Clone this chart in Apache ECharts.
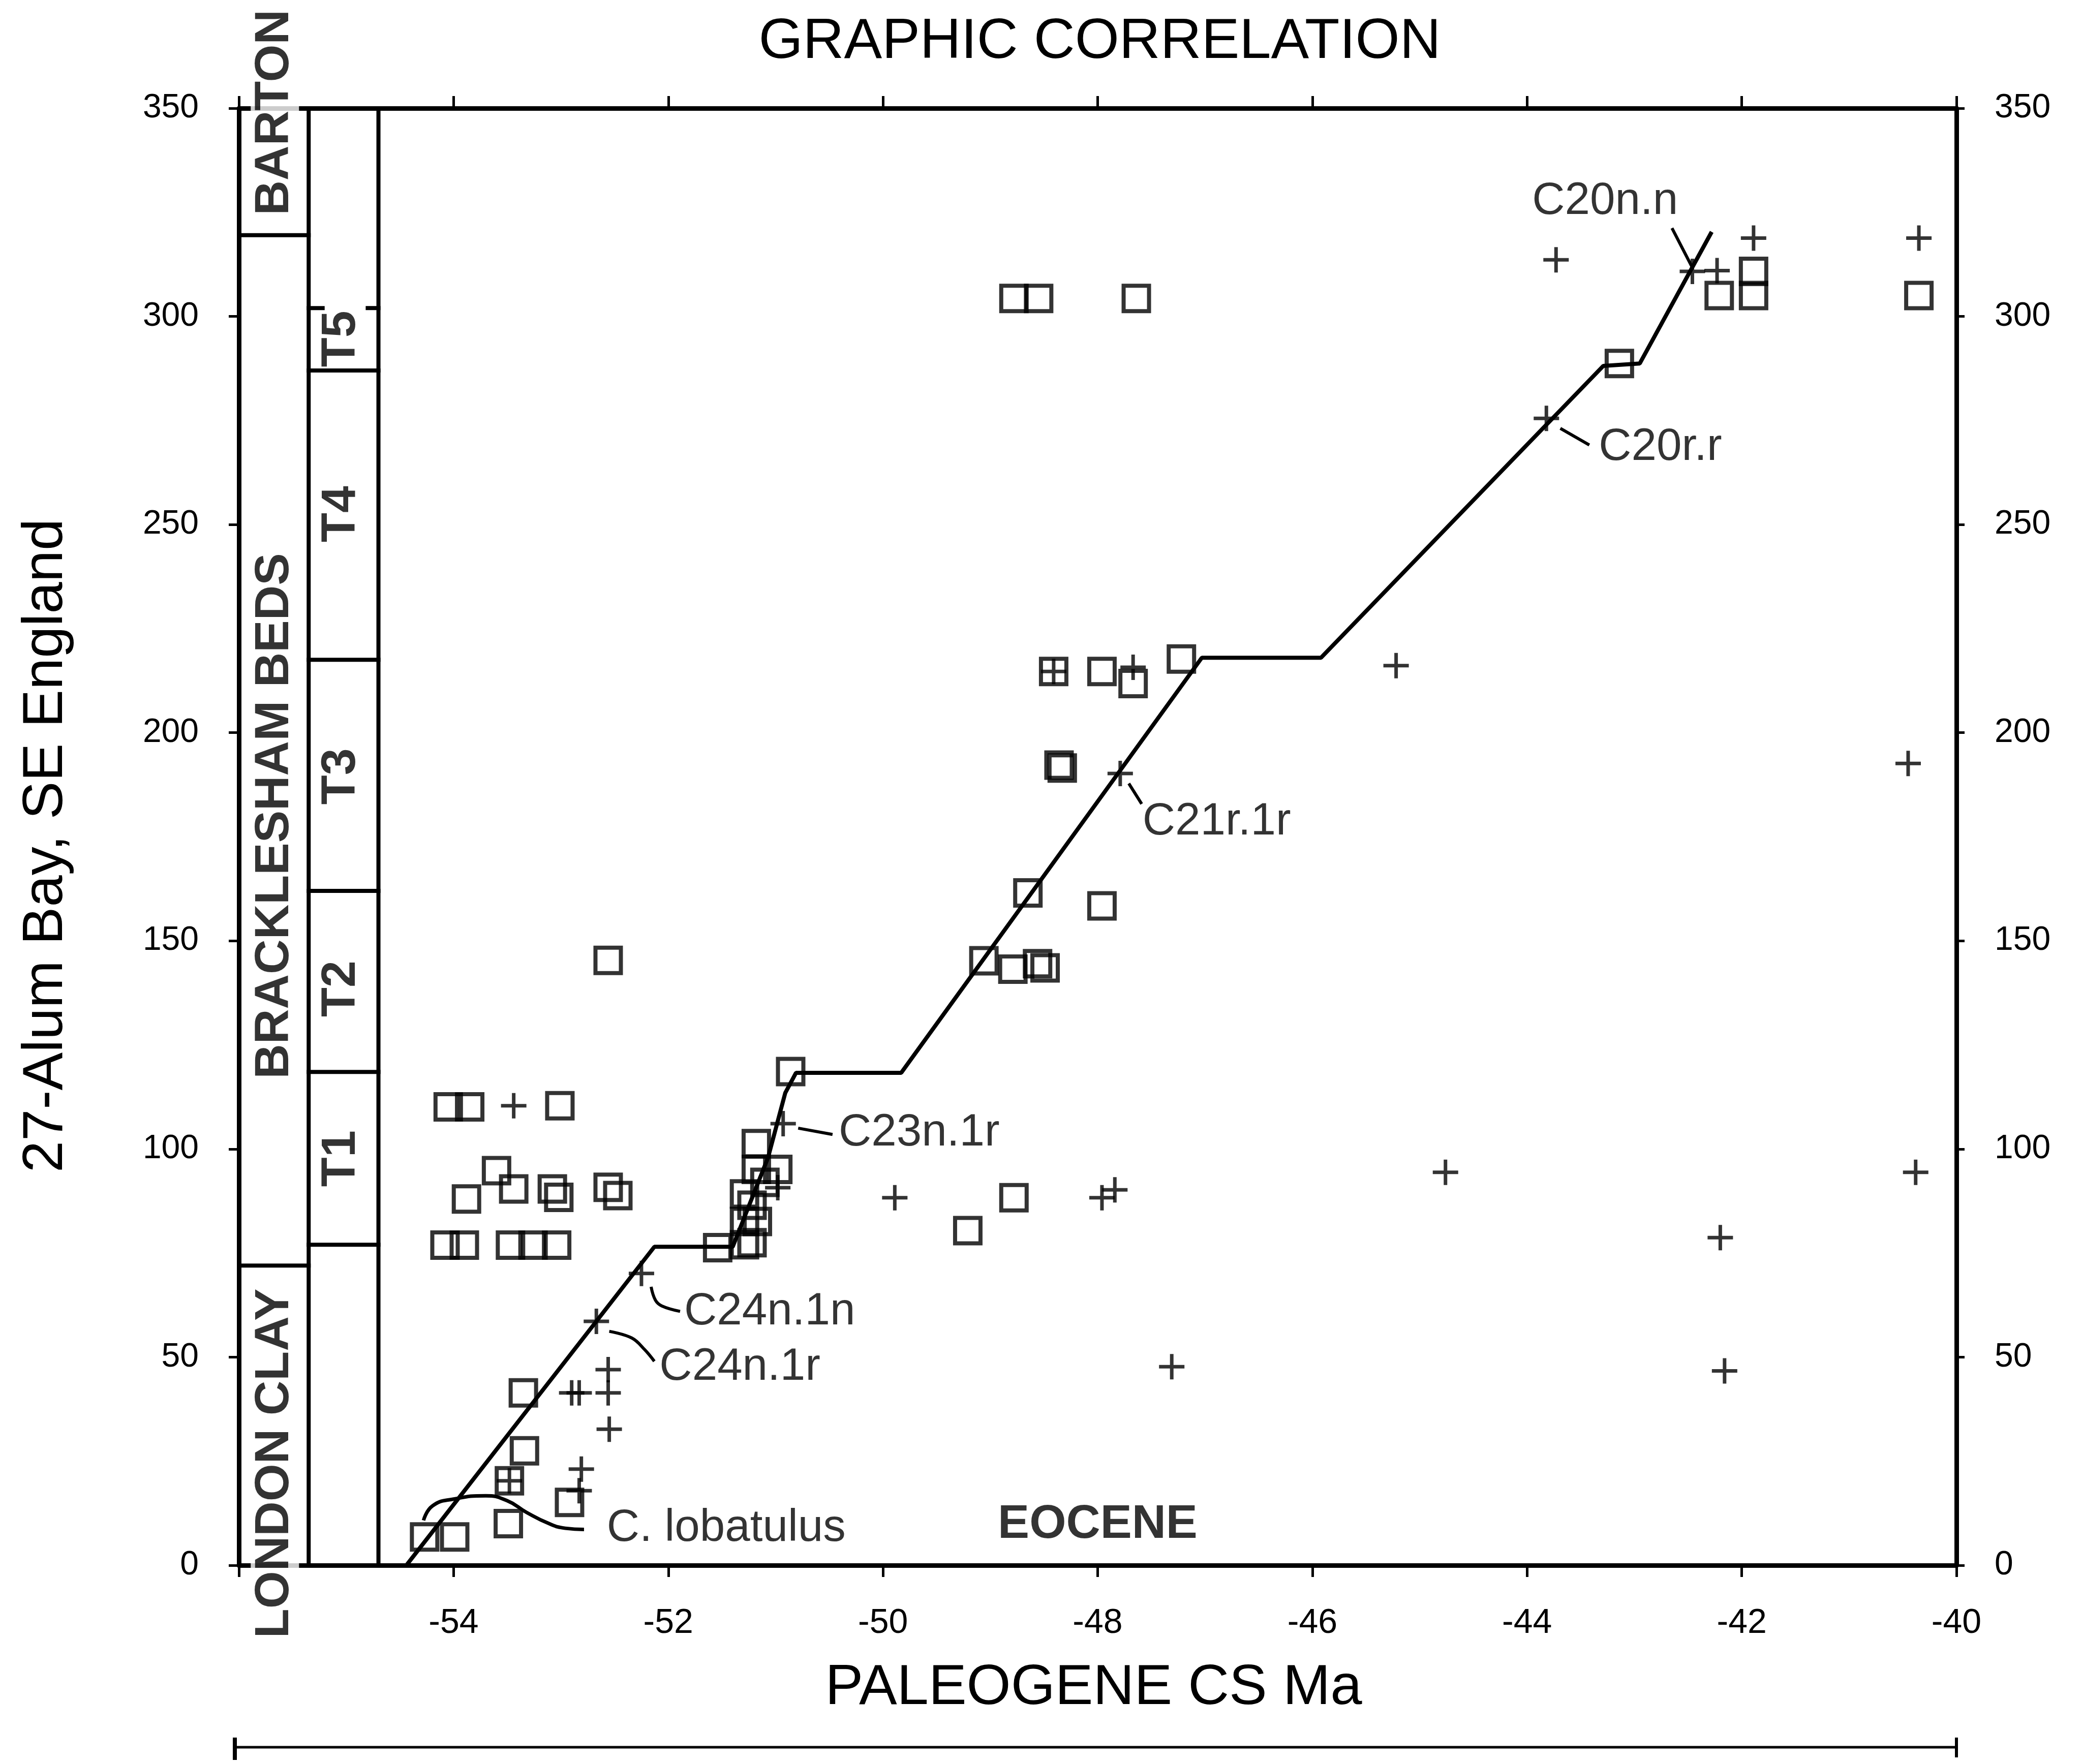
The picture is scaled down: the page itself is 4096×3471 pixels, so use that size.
<!DOCTYPE html>
<html>
<head>
<meta charset="utf-8">
<script src="https://cdn.jsdelivr.net/npm/echarts@6/dist/echarts.min.js"></script>
<style>
html,body{margin:0;padding:0;background:#fff;}
#chart{width:4096px;height:3471px;}
</style>
</head>
<body>
<div id="chart"></div>
<script>
// ---------------- data ----------------
const xMin = -56, xMax = -40, xInterval = 2;
const yMin = 0, yMax = 350, yInterval = 50;

// open squares
const squarePoints = [
  [-54.05,110.1],[-53.85,110.1],[-53.01,110.4],
  [-53.60,94.8],[-53.88,88.0],[-53.44,90.4],[-53.08,90.4],[-53.02,88.4],[-52.56,90.8],[-52.47,88.8],
  [-54.08,76.9],[-53.90,76.9],[-53.47,76.9],[-53.26,76.9],[-53.04,76.9],
  [-53.35,41.4],[-53.34,27.5],[-53.48,20.3],[-53.49,10.0],[-52.92,15.1],[-54.27,6.8],[-53.99,6.8],
  [-51.54,76.3],[-51.29,77.0],[-51.22,77.5],[-51.29,82.6],[-51.17,82.6],[-51.22,86.5],[-51.29,89.2],
  [-51.10,92.0],[-51.18,95.1],[-50.98,95.1],[-51.18,101.3],
  [-50.86,118.6],
  [-48.78,88.3],[-49.21,80.4],
  [-52.56,145.3],
  [-49.06,145.2],[-48.79,143.2],[-48.56,144.5],[-48.49,143.5],
  [-48.65,161.5],[-47.96,158.4],
  [-48.36,192.2],[-48.33,191.5],
  [-48.41,214.7],[-47.96,214.7],[-47.67,211.8],[-47.22,217.7],
  [-48.78,304.3],[-48.55,304.3],[-47.64,304.3],
  [-43.14,288.7],
  [-42.21,305.0],[-41.89,310.8],[-41.89,305.0],[-40.35,305.0]
];

// plus signs
const crossPoints = [
  [-53.44,110.4],
  [-52.25,70.1],[-52.67,58.6],
  [-52.90,41.4],[-52.83,41.4],[-52.56,47.0],[-52.56,41.4],[-52.55,32.7],[-52.81,23.1],[-52.83,17.9],[-53.48,20.3],
  [-50.93,106.1],[-50.98,90.7],[-49.89,88.3],
  [-47.96,88.3],[-47.84,90.2],
  [-47.79,190.2],
  [-48.41,214.7],[-47.67,215.7],
  [-45.22,216.1],[-40.45,192.6],[-47.31,47.7],
  [-44.76,94.4],[-42.20,78.7],[-42.16,46.7],[-40.38,94.4],
  [-43.73,313.6],[-43.82,275.5],[-42.46,310.8],[-42.23,311.0],[-41.89,318.8],[-40.35,318.8]
];

// line of correlation
const locLine = [
  [-54.44,0],[-52.13,76.5],[-51.40,76.5],[-51.07,98.0],[-50.91,113.5],[-50.81,118.3],
  [-49.83,118.3],[-47.03,218.0],[-45.92,218.0],[-43.29,288.1],[-42.95,288.7],[-42.28,320.3]
];

// C. lobatulus curve
const lobatulusCurve = [
  [-54.28,10.8],[-54.195,14.3],[-54.0,15.9],[-53.70,16.7],[-53.50,15.5],
  [-53.32,12.7],[-53.11,10.0],[-52.96,8.9],[-52.785,8.6]
];

// annotation labels: name, x (left edge), y
const annotationNames = ['C20n.n','C20r.r','C21r.1r','C23n.1r','C24n.1n','C24n.1r','C. lobatulus'];
const annotationPos = [[-43.95,327.5],[-43.33,268.5],[-47.58,178.5],[-50.41,103.8],[-51.85,60.8],[-52.08,47.5],[-52.57,8.8]];
const epochLabel = ['EOCENE', -48.0, 9.7];

// leader lines
const leaderLines = [
  [[-42.65,321.2],[-42.46,311.7]],
  [[-43.69,273.1],[-43.42,269.1]],
  [[-47.71,187.8],[-47.59,182.9]],
  [[-50.79,105.0],[-50.47,103.5]],
  [[-52.16,66.9],[-52.12,63.7],[-52.06,62.3],[-51.89,61.0]],
  [[-52.55,56.2],[-52.34,54.6],[-52.22,51.8],[-52.13,49.0]]
];

// stratigraphic columns
const columnEdges = [-56, -55.35, -54.70];
const col1Bounds = [72, 319.5];
const col2Bounds = [77, 118.5, 162, 217.5, 287];
const col2PartialBound = 302;
const col1Names = ['BARTON','BRACKLESHAM BEDS','LONDON CLAY'];
const col1Centers = [349, 180, 24.5];
const col2Names = ['T1','T2','T3','T4','T5'];
const col2Centers = [97.7, 138.5, 189.5, 252.5, 294.6];

// ---------------- chart ----------------
const FONT = 'Liberation Sans, Arial, sans-serif';
const chart = echarts.init(document.getElementById('chart'), null, {renderer:'canvas'});

// segments for columns [x0,y0,x1,y1]
const colSegments = [];
colSegments.push([columnEdges[1], yMin, columnEdges[1], yMax]);
colSegments.push([columnEdges[2], yMin, columnEdges[2], yMax]);
col1Bounds.forEach(b => colSegments.push([columnEdges[0], b, columnEdges[1], b]));
col2Bounds.forEach(b => colSegments.push([columnEdges[1], b, columnEdges[2], b]));
colSegments.push([columnEdges[1], col2PartialBound, columnEdges[1] + 0.13, col2PartialBound]);
colSegments.push([columnEdges[2] - 0.10, col2PartialBound, columnEdges[2], col2PartialBound]);

const col1Mid = (columnEdges[0] + columnEdges[1]) / 2 + 0.01;
const col2Mid = (columnEdges[1] + columnEdges[2]) / 2 - 0.02;

const colLabelData = [];
col1Names.forEach((n, i) => colLabelData.push({name: n, value: [col1Mid, col1Centers[i]]}));
col2Names.forEach((n, i) => colLabelData.push({name: n, value: [col2Mid, col2Centers[i]]}));

const annotData = annotationNames.map((n, i) => ({name: n, value: annotationPos[i]}));

const axisLineStyle = {color:'#000', width:9};

const option = {
  animation: false,
  backgroundColor: '#fff',
  grid: {left: 470, right: 247, top: 213, bottom: 391},
  xAxis: [
    {type:'value', min:xMin, max:xMax, interval:xInterval, position:'bottom',
     axisLine:{show:true, onZero:false, lineStyle:axisLineStyle},
     axisTick:{show:true, length:23, lineStyle:{color:'#000', width:5}},
     axisLabel:{show:true, color:'#000', fontSize:68, fontFamily:FONT, margin:80,
       formatter: v => (v === xMin ? '' : String(v))},
     splitLine:{show:false}},
    {type:'value', min:xMin, max:xMax, interval:xInterval, position:'top',
     axisLine:{show:true, onZero:false, lineStyle:axisLineStyle},
     axisTick:{show:true, length:24, lineStyle:{color:'#000', width:5}},
     axisLabel:{show:false}, splitLine:{show:false}}
  ],
  yAxis: [
    {type:'value', min:yMin, max:yMax, interval:yInterval, position:'left',
     axisLine:{show:true, onZero:false, lineStyle:axisLineStyle},
     axisTick:{show:true, length:20, lineStyle:{color:'#000', width:5}},
     axisLabel:{show:true, color:'#000', fontSize:66, fontFamily:FONT, margin:79},
     splitLine:{show:false}},
    {type:'value', min:yMin, max:yMax, interval:yInterval, position:'right',
     axisLine:{show:true, onZero:false, lineStyle:axisLineStyle},
     axisTick:{show:true, length:16, lineStyle:{color:'#000', width:5}},
     axisLabel:{show:true, color:'#000', fontSize:66, fontFamily:FONT, margin:75},
     splitLine:{show:false}}
  ],
  series: [
    {
      type:'custom', name:'columns', data: colSegments, clip:false, silent:true, z:3,
      renderItem: function(params, api){
        const p0 = api.coord([api.value(0), api.value(1)]);
        const p1 = api.coord([api.value(2), api.value(3)]);
        return {type:'line', shape:{x1:p0[0], y1:p0[1], x2:p1[0], y2:p1[1]},
                style:{stroke:'#000', lineWidth:8, lineCap:'square'}};
      }
    },
    {
      type:'line', name:'LOC', data: locLine, showSymbol:false, silent:true, z:4,
      lineStyle:{color:'#000', width:8}
    },
    {
      type:'line', name:'C. lobatulus', data: lobatulusCurve, showSymbol:false, smooth:0.5, silent:true, z:4,
      lineStyle:{color:'#000', width:7}
    },
    {
      type:'custom', name:'leaders', data: leaderLines.map((l, i) => [i]), silent:true, z:4,
      renderItem: function(params, api){
        const pts = leaderLines[params.dataIndex].map(p => api.coord(p));
        return {type:'polyline', shape:{points: pts, smooth: 0.4},
                style:{stroke:'#000', lineWidth:6, fill:null}};
      }
    },
    {
      type:'scatter', name:'squares', data: squarePoints, symbol:'rect', symbolSize:50, silent:true, z:5,
      itemStyle:{color:'rgba(255,255,255,0)', borderColor:'#000', borderWidth:8}
    },
    {
      type:'scatter', name:'crosses', data: crossPoints,
      symbol:'path://M0 50 L100 50 M50 0 L50 100', symbolSize:50, silent:true, z:6,
      itemStyle:{color:'rgba(255,255,255,0)', borderColor:'#000', borderWidth:7}
    },
    {
      type:'scatter', name:'annotations', data: annotData, symbolSize:1, silent:true, z:7,
      itemStyle:{color:'rgba(0,0,0,0)'},
      label:{show:true, formatter:'{b}', position:[0,0], align:'left', verticalAlign:'middle',
             color:'#000', fontSize:89, fontFamily:FONT}
    },
    {
      type:'scatter', name:'epoch', data:[{name:epochLabel[0], value:[epochLabel[1], epochLabel[2]]}],
      symbolSize:1, silent:true, z:7, itemStyle:{color:'rgba(0,0,0,0)'},
      label:{show:true, formatter:'{b}', position:'inside', align:'center', verticalAlign:'middle',
             color:'#000', fontSize:93, fontWeight:'bold', fontFamily:FONT}
    },
    {
      type:'scatter', name:'column labels', data: colLabelData, symbolSize:1, silent:true, z:8, clip:false,
      itemStyle:{color:'rgba(0,0,0,0)'},
      label:{show:true, formatter:'{b}', position:'inside', rotate:90, align:'center', verticalAlign:'middle',
             color:'#000', fontSize:95, fontWeight:'bold', fontFamily:FONT, backgroundColor:'#fff'}
    }
  ]
};
chart.setOption(option);

// titles and bottom span bar (placed using the chart's own scale)
const xl = chart.convertToPixel({xAxisIndex:0}, xMin);
const xr = chart.convertToPixel({xAxisIndex:0}, xMax);
const gridMid = (xl + xr) / 2;
const barY = 3438;
chart.setOption({
  graphic: [
    {type:'text', x: gridMid + 4, y: 83, style:{text:'GRAPHIC CORRELATION', fontSize:112, fontFamily:FONT, fill:'#000', align:'center', verticalAlign:'middle'}},
    {type:'text', x: 91, y: 1664, rotation: Math.PI/2, style:{text:'27-Alum Bay, SE England', fontSize:112, fontFamily:FONT, fill:'#000', align:'center', verticalAlign:'middle'}},
    {type:'text', x: gridMid - 8, y: 3322, style:{text:'PALEOGENE CS Ma', fontSize:112, fontFamily:FONT, fill:'#000', align:'center', verticalAlign:'middle'}},
    {type:'line', shape:{x1: xl - 8, y1: barY, x2: xr, y2: barY}, style:{stroke:'#000', lineWidth:5}},
    {type:'line', shape:{x1: xl - 8, y1: barY - 19, x2: xl - 8, y2: barY + 25}, style:{stroke:'#000', lineWidth:8}},
    {type:'line', shape:{x1: xr, y1: barY - 19, x2: xr, y2: barY + 20}, style:{stroke:'#000', lineWidth:6}}
  ]
});
</script>
</body>
</html>
